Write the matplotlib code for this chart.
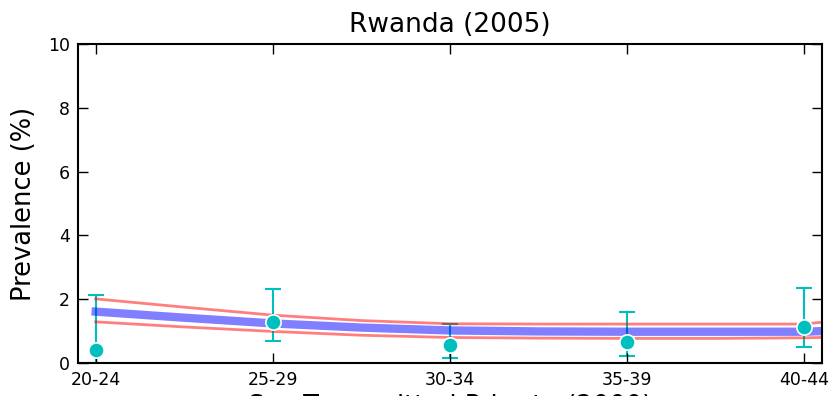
import matplotlib
matplotlib.use('Agg')
import matplotlib.pyplot as plt
import numpy as np

# CONFIG
age_groups = ['20-24', '25-29', '30-34', '35-39', '40-44']

# observed prevalence (%) with error bars
obs_mean = [0.41, 1.28, 0.56, 0.67, 1.14]
obs_low = [0.00, 0.70, 0.16, 0.22, 0.51]
obs_high = [2.13, 2.32, 1.22, 1.59, 2.34]

# model fit (positions in age-group index units)
fit_x = [0.0, 0.5, 1.0, 1.5, 2.0, 2.5, 3.0, 3.5, 4.0, 4.1]
fit_mean = [1.61, 1.42, 1.24, 1.11, 1.02, 0.99, 0.98, 0.98, 0.98, 1.00]
fit_upper = [2.01, 1.75, 1.50, 1.33, 1.23, 1.22, 1.22, 1.22, 1.22, 1.28]
fit_lower = [1.29, 1.13, 0.99, 0.87, 0.80, 0.78, 0.77, 0.77, 0.79, 0.80]

# PLOT
fig = plt.figure(figsize=(8.35, 3.96), dpi=100)
ax = fig.add_axes([78/835, 1 - 363/396, (822 - 78)/835, (363 - 44)/396])

x = np.arange(len(age_groups))
yerr = [np.array(obs_mean) - np.array(obs_low), np.array(obs_high) - np.array(obs_mean)]
ax.errorbar(x, obs_mean, yerr=yerr, fmt='none', ecolor='c', elinewidth=1.5,
            capsize=6, capthick=1.5, zorder=1)

ax.plot(fit_x, fit_mean, color='blue', alpha=0.5, lw=6, zorder=2)
ax.plot(fit_x, fit_upper, color='red', alpha=0.5, lw=2, zorder=2)
ax.plot(fit_x, fit_lower, color='red', alpha=0.5, lw=2, zorder=2)

ax.plot(x, obs_mean, 'o', color='c', markersize=11, markeredgecolor='white',
        markeredgewidth=1.2, zorder=3)

ax.set_xlim(-0.1, 4.1)
ax.set_ylim(0, 10)
ax.set_xticks(x)
ax.set_xticklabels(age_groups)
ax.set_yticks([0, 2, 4, 6, 8, 10])
ax.tick_params(direction='in', length=7, width=1, labelsize=12.5, pad=6,
               top=True, right=True)
for sp in ax.spines.values():
    sp.set_linewidth(1.5)

ax.set_title('Rwanda (2005)', fontsize=19, pad=9)
ax.set_ylabel('Prevalence (%)', fontsize=18.5, labelpad=8)
ax.set_xlabel('Sex Transmitted Prior to (2000)', fontsize=18.5, labelpad=3)

fig.savefig('out.png', dpi=100)
